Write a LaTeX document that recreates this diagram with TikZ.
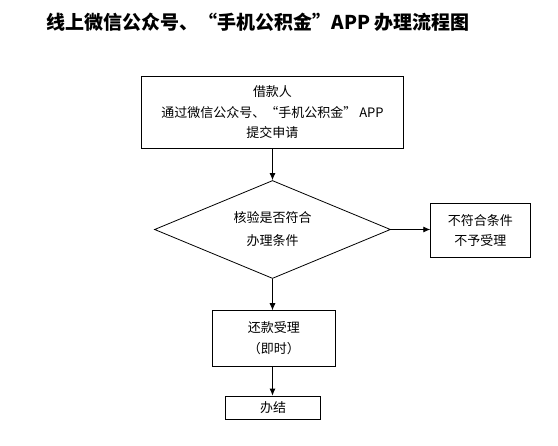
\documentclass[tikz,border=0pt]{standalone}
\usepackage{fontspec}
\setmainfont{Noto Sans CJK SC}
\usetikzlibrary{shapes.geometric,arrows.meta,positioning}
\tikzset{
    stepbox/.style = {rectangle, draw=black, line width=0.8pt, align=center, inner sep=0pt, font=\fontsize{13}{20.5}\selectfont},
    decision/.style = {diamond, draw=black, line width=0.8pt, align=center, inner sep=0pt, aspect=2.41, minimum width=236pt, minimum height=98pt, font=\fontsize{13}{23}\selectfont},
    flow/.style = {-{Latex[length=7pt,width=6pt]}, line width=0.8pt},
    heading/.style = {font=\bfseries\fontsize{19}{22}\selectfont}
}

\begin{document}
\begin{tikzpicture}[x=1pt, y=-1pt]
    \useasboundingbox (0,0) rectangle (558,446);

    \node [heading] (title) at (258.4,22) {线上微信公众号、“手机公积金”APP 办理流程图};

    \node [stepbox, minimum width=261.6pt, minimum height=72.3pt] (borrower) at (272.5,112.2) {借款人\\通过微信公众号、“手机公积金” APP\\提交申请};
    \node [decision] (check) at (272.5,229.5) {核验是否符合\\办理条件};
    \node [stepbox, minimum width=99.3pt, minimum height=54pt] (reject) at (480.3,230.3) {不符合条件\\不予受理};
    \node [stepbox, minimum width=122.3pt, minimum height=55.3pt] (accept) at (273.8,338.3) {还款受理\\（即时）};
    \node [stepbox, minimum width=95pt, minimum height=23.3pt] (finish) at (273.2,407.7) {办结};

    \draw [flow] (borrower) -- (check);
    \draw [flow] (check.east) -- (check.east -| reject.west);
    \draw [flow] (check.south) -- (check.south |- accept.north);
    \draw [flow] (accept.south -| check.south) -- (check.south |- finish.north);
\end{tikzpicture}
\end{document}
